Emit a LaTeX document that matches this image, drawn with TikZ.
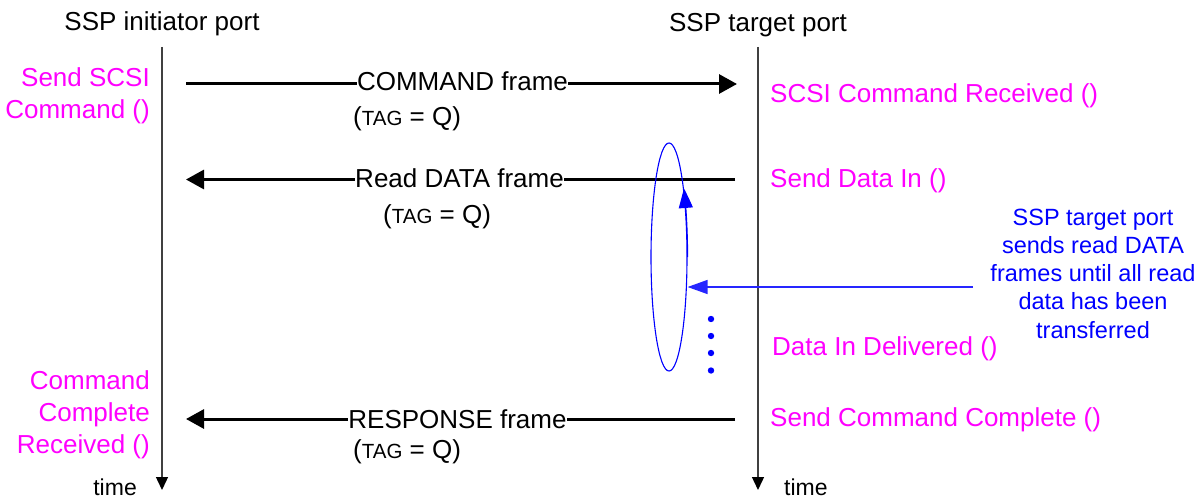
\documentclass[tikz,border=0pt]{standalone}
\usepackage{fontspec}
\setmainfont{Liberation Sans}
\usetikzlibrary{arrows.meta,shapes.geometric,bending}
\definecolor{mag}{HTML}{FF00FF}
\definecolor{lifegray}{HTML}{404040}
\begin{document}
\begin{tikzpicture}[x=1pt,y=-1pt,
  big/.style={font=\fontsize{26}{32}\selectfont, inner sep=0pt},
  head/.style={big, anchor=base},
  fn/.style={big, text=mag, anchor=base west},
  lifeline/.style={draw=lifegray, line width=1.4pt, -{Triangle[length=13pt,width=12pt,color=black]}},
  msg/.style={line width=3pt, -{Triangle[length=18pt,width=19pt]}},
  msglabel/.style={big, anchor=base, fill=white, inner xsep=0.5pt, inner ysep=1pt},
  taglabel/.style={big, anchor=base west},
  timelabel/.style={font=\fontsize{23}{28}\selectfont, inner sep=0pt},
  note/.style={font=\fontsize{23.5}{28.3}\selectfont, text=blue, inner sep=0pt, anchor=base},
  dot/.style={circle, fill=blue, inner sep=0pt, minimum size=6.4pt}
]
\useasboundingbox (0,0) rectangle (1204,500);
\newcommand{\tagq}{(\fontsize{20.5}{24}\selectfont TAG\fontsize{26}{32}\selectfont{} = Q)}

% headers
\node[head] (hi) at (162,31) {SSP initiator port};
\node[head] (ht) at (758,31.7) {SSP target port};

% lifelines
\coordinate (iTop) at (162,47);
\coordinate (iBot) at (162,490);
\coordinate (tTop) at (758,47);
\coordinate (tBot) at (758,490);
\draw[lifeline] (iTop) -- (iBot);
\draw[lifeline] (tTop) -- (tBot);
\node[timelabel, anchor=base east] (timeI) at (137,495.5) {time};
\node[timelabel, anchor=base west] (timeT) at (784,495.5) {time};

% left function labels
\node[big, text=mag, anchor=base east] (sendcmd) at (150,87)
  {\begin{tabular}[t]{@{}r@{}}Send SCSI\\Command ()\end{tabular}};
\node[font=\fontsize{26}{32}\selectfont, inner sep=0pt, text=mag, anchor=base east] (cmdcomp) at (150,389)
  {\begin{tabular}[t]{@{}r@{}}Command\\Complete\\Received ()\end{tabular}};

% right function labels
\node[fn] (rcv) at (770,103) {SCSI Command Received ()};
\node[fn] (sdi) at (770,187) {Send Data In ()};
\node[fn] (did) at (772,355) {Data In Delivered ()};
\node[fn] (scc) at (770,426) {Send Command Complete ()};

% messages
\coordinate (m1a) at (186,84);
\coordinate (m1b) at (737,84);
\draw[msg] (m1a) -- (m1b);
\node[msglabel] (l1) at (462.5,91) {COMMAND frame};
\node[taglabel] (t1) at (353,125) {\tagq};

\coordinate (m2a) at (735,179.5);
\coordinate (m2b) at (186,179.5);
\draw[msg] (m2a) -- (m2b);
\node[msglabel] (l2) at (459.5,187) {Read DATA frame};
\node[taglabel] (t2) at (383,223) {\tagq};

\coordinate (m3a) at (735,419);
\coordinate (m3b) at (186,419);
\draw[msg] (m3a) -- (m3b);
\node[msglabel] (l3) at (457.5,428) {RESPONSE frame};
\node[taglabel] (t3) at (353,458) {\tagq};

% repetition loop
\node[ellipse, draw=blue, line width=1.1pt, minimum width=36pt, minimum height=228pt, inner sep=0pt] (loop) at (669,257) {};
\draw[blue, line width=1.1pt, -{Triangle[length=19pt,width=14pt,bend]}]
  (loop.east) arc[start angle=0, end angle=37, x radius=18pt, y radius=114pt];

% dots
\node[dot] (d1) at (711,319) {};
\node[dot] (d2) at (711,336) {};
\node[dot] (d3) at (711,353) {};
\node[dot] (d4) at (711,370.5) {};

% note
\node[note] (nt) at (1093,225)
  {\begin{tabular}[t]{@{}c@{}}SSP target port\\sends read DATA\\frames until all read\\data has been\\transferred\end{tabular}};
\coordinate (nArr) at (973,287);
\draw[blue!85!white, line width=1.3pt, -{Triangle[length=20pt,width=14pt]}] (nArr) -- (nArr -| loop.east);
\end{tikzpicture}
\end{document}
